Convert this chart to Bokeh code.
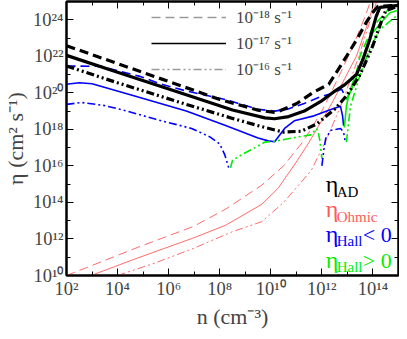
import numpy as np
from bokeh.plotting import figure
from bokeh.models import (LogAxis, FixedTicker, CustomJSTickFormatter, Label,
                          Legend, LegendItem)
from bokeh.embed import file_html
from bokeh.resources import INLINE

# ---- data (log10 n, log10 eta) ----
ad18_n = [2, 4, 6, 8, 9.5, 10.2, 11.0, 11.69, 12.27, 12.73, 13.08, 13.42, 13.73, 14.0, 14.2, 15.0]
ad18_e = [22.58, 21.6, 20.62, 19.64, 19.05, 18.92, 19.4, 20.05, 20.47, 21.47, 22.26, 23.05, 23.84, 24.42, 24.74, 24.79]
ad17_n = [2, 4, 6.69, 8.5, 9.77, 10.15, 10.7, 11.31, 11.96, 12.46, 12.9, 13.35, 13.6, 13.88, 14.12, 14.27, 15.0]
ad17_e = [22.05, 21.13, 19.89, 19.06, 18.63, 18.58, 18.7, 19.0, 19.53, 20.05, 20.45, 21.0, 21.8, 22.95, 24.16, 24.68, 24.79]
ad16_n = [2, 4, 6.69, 8.5, 9.77, 10.5, 11.2, 11.8, 12.5, 13.0, 13.5, 14.0, 14.3, 14.5, 15.0]
ad16_e = [21.47, 20.55, 19.37, 18.6, 18.1, 17.85, 17.9, 18.3, 19.1, 19.9, 21.0, 22.6, 23.8, 24.5, 24.75]

oh18_n = [2, 3, 4.77, 6.96, 8.23, 9.65, 10.5, 11.3, 12.0, 12.6, 13.2, 13.7, 13.95]
oh18_e = [10.0, 10.55, 11.53, 12.68, 13.63, 14.95, 16.0, 17.4, 19.0, 20.7, 22.5, 24.2, 25.2]
oh17_n = [2.96, 4.77, 6.96, 8.23, 9.65, 10.3, 11.04, 11.5, 12.38, 12.9, 13.35, 13.8, 14.1]
oh17_e = [10.0, 10.95, 12.05, 12.75, 13.9, 14.8, 16.3, 17.3, 19.4, 20.8, 22.0, 23.8, 25.2]
oh16_n = [4.0, 5.5, 7.0, 8.5, 9.65, 10.5, 11.58, 12.2, 12.8, 13.4, 13.9, 14.2]
oh16_e = [10.0, 10.7, 11.5, 12.4, 12.95, 14.0, 15.74, 17.5, 19.5, 21.8, 24.0, 25.2]

hneg18_n = [2, 3.35, 4.88, 5.65, 6.69, 8.23, 9.5, 10.15, 10.65, 11.31, 11.96, 12.35, 12.77, 12.92]
hneg18_e = [21.47, 21.45, 20.9, 20.5, 20.1, 19.63, 19.1, 19.0, 19.1, 19.42, 19.79, 19.95, 20.2, 19.8]
hpos18_n = [12.96, 13.04, 13.35, 13.5, 14.0, 14.58, 15.0]
hpos18_e = [19.6, 19.9, 21.1, 22.05, 23.63, 24.53, 24.74]

hneg17_n = [2, 2.5, 3.0, 4.5, 6.69, 8.23, 9.5, 9.9, 10.15, 10.54, 10.92, 11.69, 12.38, 12.73, 12.81, 12.85]
hneg17_e = [20.47, 20.55, 20.5, 19.9, 19.0, 18.21, 17.53, 17.37, 17.32, 18.05, 18.47, 18.74, 19.1, 19.26, 18.74, 18.2]
hpos17_n = [12.88, 12.96, 13.04, 13.35, 13.5, 13.73, 14.0, 14.31, 14.65, 15.0]
hpos17_e = [18.1, 19.26, 19.79, 20.84, 21.53, 22.42, 23.3, 23.84, 24.37, 24.53]

hneg16a_n = [2, 2.6, 3.5, 4.38, 5.5, 6.9, 7.6, 8.0, 8.2, 8.35]
hneg16a_e = [19.37, 19.47, 19.3, 19.0, 18.55, 18.05, 17.6, 17.2, 16.6, 15.9]
hpos16a_n = [8.42, 8.5, 8.88, 9.38, 9.77, 10.15, 11.04, 11.58, 11.78, 11.85, 11.92, 12.0]
hpos16a_e = [15.9, 16.3, 16.63, 17.0, 17.3, 17.35, 17.58, 17.7, 18.05, 17.9, 17.4, 16.4]
hneg16b_n = [12.0, 12.08, 12.15, 12.35, 12.73, 12.85, 12.92]
hneg16b_e = [16.0, 16.9, 17.5, 17.95, 18.05, 17.84, 17.3]
hpos16b_n = [12.96, 13.12, 13.5, 13.88, 14.27, 14.88, 15.0]
hpos16b_e = [17.3, 19.26, 21.0, 22.42, 23.47, 24.16, 24.25]

x_ticks = [2, 4, 6, 8, 10, 12, 14]
y_ticks = [10, 12, 14, 16, 18, 20, 22, 24]
legend_labels = ["10\u207b\u00b9\u2078 s\u207b\u00b9", "10\u207b\u00b9\u2077 s\u207b\u00b9", "10\u207b\u00b9\u2076 s\u207b\u00b9"]

SERIF = "Liberation Serif"
DASH = "9 5"
DDOT = "8 3 2 3 2 3"

def P(a):
    return list(10.0 ** np.asarray(a, dtype=float))

p = figure(width=399, height=331, x_axis_type="log", y_axis_type="log",
           x_range=(1e2, 1e15), y_range=(1e10, 1e25),
           output_backend="svg", toolbar_location=None,
           min_border_left=60, min_border_right=1, min_border_top=1, min_border_bottom=53)
p.grid.visible = False
p.outline_line_color = "black"
p.outline_line_width = 2
p.background_fill_color = "white"
p.border_fill_color = "white"

fmt = CustomJSTickFormatter(code="""
const sup = {'0':'\u2070','1':'\u00b9','2':'\u00b2','3':'\u00b3','4':'\u2074','5':'\u2075','6':'\u2076','7':'\u2077','8':'\u2078','9':'\u2079','-':'\u207b'};
const e = Math.round(Math.log10(tick));
return '10' + String(e).split('').map(c => sup[c]).join('');
""")
blank = CustomJSTickFormatter(code="return '';")

xt = FixedTicker(ticks=P(x_ticks), minor_ticks=P([3, 5, 7, 9, 11, 13]))
yt = FixedTicker(ticks=P(y_ticks), minor_ticks=P([11, 13, 15, 17, 19, 21, 23]))

def style(ax, ticker, formatter, labels=True):
    ax.ticker = ticker
    ax.formatter = formatter
    ax.axis_line_width = 2
    ax.major_tick_in = 7
    ax.major_tick_out = 0
    ax.minor_tick_in = 4
    ax.minor_tick_out = 0
    ax.major_tick_line_width = 1
    ax.minor_tick_line_width = 1
    ax.major_label_text_font = SERIF
    ax.major_label_text_font_size = "18.5px" if labels else "0px"
    ax.major_label_standoff = 3 if labels else 0
    ax.axis_label_text_font = SERIF
    ax.axis_label_text_font_style = "normal"
    ax.axis_label_text_font_size = "22px" if labels else "0px"
    ax.axis_label_standoff = 2 if labels else 0

style(p.xaxis[0], xt, fmt)
style(p.yaxis[0], yt, fmt)
p.xaxis[0].axis_label = "n (cm\u207b\u00b3)"
p.yaxis[0].axis_label = "\u03b7 (cm\u00b2 s\u207b\u00b9)"

ax_top = LogAxis()
style(ax_top, xt, blank, labels=False)
p.add_layout(ax_top, "above")
ax_right = LogAxis()
style(ax_right, yt, blank, labels=False)
p.add_layout(ax_right, "right")

RED = "#ff5a5a"
BLUE = "#0000ff"
GREEN = "#00ee00"

# Ohmic (thin red)
p.line(P(oh18_n), P(oh18_e), line_color=RED, line_width=0.9, line_dash=DASH)
p.line(P(oh17_n), P(oh17_e), line_color=RED, line_width=0.9)
p.line(P(oh16_n), P(oh16_e), line_color=RED, line_width=0.9, line_dash=DDOT)

# Hall
p.line(P(hneg18_n), P(hneg18_e), line_color=BLUE, line_width=1.6, line_dash=DASH)
p.line(P(hpos18_n), P(hpos18_e), line_color=GREEN, line_width=1.6, line_dash=DASH)
p.line(P(hneg17_n), P(hneg17_e), line_color=BLUE, line_width=1.6)
p.line(P(hpos17_n), P(hpos17_e), line_color=GREEN, line_width=1.6)
p.line(P(hneg16a_n), P(hneg16a_e), line_color=BLUE, line_width=1.6, line_dash=DDOT)
p.line(P(hpos16a_n), P(hpos16a_e), line_color=GREEN, line_width=1.6, line_dash=DDOT)
p.line(P(hneg16b_n), P(hneg16b_e), line_color=BLUE, line_width=1.6, line_dash=DDOT)
p.line(P(hpos16b_n), P(hpos16b_e), line_color=GREEN, line_width=1.6, line_dash=DDOT)

# Ambipolar (thick black)
p.line(P(ad18_n), P(ad18_e), line_color="black", line_width=3.2, line_dash=DASH)
p.line(P(ad17_n), P(ad17_e), line_color="black", line_width=3.2)
p.line(P(ad16_n), P(ad16_e), line_color="black", line_width=3.2, line_dash=DDOT)

# legend sample renderers (a single NaN point each, so nothing is drawn in the frame)
nan = [float("nan")]
g1 = p.line(nan, nan, line_color="#9a9a9a", line_width=1.5, line_dash=DASH)
g2 = p.line(nan, nan, line_color="black", line_width=1.5)
g3 = p.line(nan, nan, line_color="#9a9a9a", line_width=1.5, line_dash=DDOT)
leg = Legend(items=[LegendItem(label=legend_labels[0], renderers=[g1], index=0),
                    LegendItem(label=legend_labels[1], renderers=[g2], index=0),
                    LegendItem(label=legend_labels[2], renderers=[g3], index=0)],
             location=(85, 195), glyph_width=75, glyph_height=20, label_height=20,
             spacing=3, label_standoff=10, padding=0, margin=0,
             background_fill_alpha=0, border_line_alpha=0,
             label_text_font=SERIF, label_text_font_size="17px")
p.add_layout(leg, "center")

def lab(xl, yl, txt, color, size):
    p.add_layout(Label(x=10 ** xl, y=10 ** yl, text=txt, text_color=color,
                       text_font=SERIF, text_font_size=size,
                       text_baseline="alphabetic", text_align="left"))

lab(12.15, 15.0, "\u03b7", "black", "24px")
lab(12.58, 14.58, "AD", "black", "15px")
lab(12.15, 13.63, "\u03b7", RED, "24px")
lab(12.58, 13.21, "Ohmic", RED, "15px")
lab(12.15, 12.26, "\u03b7", BLUE, "24px")
lab(12.58, 11.89, "Hall", BLUE, "15px")
lab(13.6, 12.26, "< 0", BLUE, "22px")
lab(12.15, 10.84, "\u03b7", GREEN, "24px")
lab(12.58, 10.47, "Hall", GREEN, "15px")
lab(13.6, 10.84, "> 0", GREEN, "22px")

open("out.html", "w").write(file_html(p, INLINE))
